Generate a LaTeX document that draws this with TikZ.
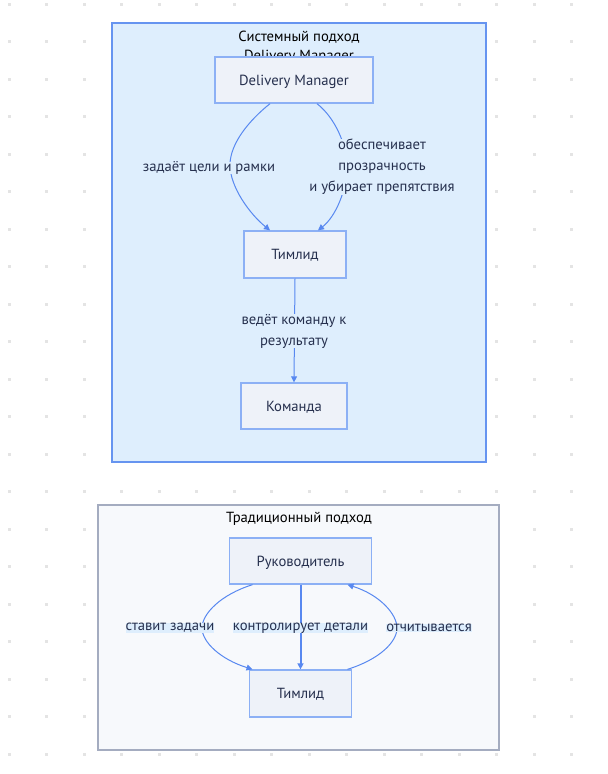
\documentclass[tikz,border=0pt]{standalone}
\usepackage{fontspec}
\setmainfont{PT Sans}
\usetikzlibrary{arrows.meta,calc}
\definecolor{dotc}{RGB}{228,228,228}
\definecolor{c1fill}{RGB}{222,238,253}
\definecolor{c1draw}{RGB}{102,148,240}
\definecolor{c2fill}{RGB}{247,249,252}
\definecolor{c2draw}{RGB}{164,172,192}
\definecolor{nfill}{RGB}{238,242,249}
\definecolor{ndraw}{RGB}{140,176,245}
\definecolor{ecol}{RGB}{88,136,240}
\definecolor{tcol}{RGB}{38,48,78}
\definecolor{lbg}{RGB}{222,238,253}
\begin{document}
\begin{tikzpicture}[x=0.75pt,y=-0.75pt,
  box/.style={draw=ndraw,fill=nfill,line width=1pt,text=tcol,font=\fontsize{11pt}{14pt}\selectfont,inner sep=0pt,text height=7.7pt,text depth=0pt},
  elabel/.style={fill=lbg,text=tcol,inner sep=0pt,align=center,font=\fontsize{11pt}{15.75pt}\selectfont},
  edge/.style={draw=ecol,line width=0.75pt,-{Triangle[length=4.5pt,width=4.5pt]}},
  ctitle/.style={text=black,inner sep=0pt,anchor=base,font=\fontsize{11pt}{14pt}\selectfont}]
\useasboundingbox (0,0) rectangle (607,774);
% dot grid
\foreach \i in {0,...,16}{
  \foreach \j in {0,...,20}{
    \fill[dotc] ({9+37.5*\i-1.5},{4.3+37.5*\j-1.5}) rectangle ++(3,3);
  }
}
% clusters
\path[draw=c1draw,fill=c1fill,line width=1.5pt] (112,23) rectangle (486,462);
\path[draw=c2draw,fill=c2fill,line width=1.5pt] (98,505) rectangle (499,750);
% cluster titles
\node[ctitle] (t1a) at (299,41.5) {Системный подход};
\node[ctitle] (t1b) at (299,60.5) {Delivery Manager};
\node[ctitle] (t2) at (299,522) {Традиционный подход};
% nodes
\node[box,minimum width=118.5pt,minimum height=34.5pt] (dm) at (294,80) {Delivery Manager};
\node[box,minimum width=76.5pt,minimum height=35.25pt] (tl) at (295,254.5) {Тимлид};
\node[box,minimum width=79.5pt,minimum height=34.5pt] (km) at (294,406) {Команда};
\node[box,minimum width=106.5pt,minimum height=34.5pt] (rk) at (300.5,561) {Руководитель};
\node[box,minimum width=76.5pt,minimum height=35.25pt] (tl2) at (300.5,693.5) {Тимлид};
% curve midpoints
\coordinate (m1) at (230,165);
\coordinate (m2) at (347,167);
\coordinate (m3) at (202,628);
\coordinate (m4) at (397,628);
% edges
\draw[edge] ([xshift=-18pt]dm.south) .. controls +(-20,16) and +(0,-22) .. (m1) .. controls +(0,22) and +(-20,-16) .. ([xshift=-18.75pt]tl.north);
\draw[edge] ([xshift=17.25pt]dm.south) .. controls +(18,14) and +(0,-22) .. (m2) .. controls +(0,22) and +(18,-14) .. ([xshift=17.25pt]tl.north);
\draw[edge] (tl.south) -- (km.north);
\draw[edge] ([xshift=-36pt]rk.south) .. controls +(-32,10) and +(0,-14) .. (m3) .. controls +(0,14) and +(-32,-10) .. ([xshift=-36pt]tl2.north);
\draw[edge,line width=1.5pt] (rk.south) -- (tl2.north);
\draw[edge] ([xshift=35.25pt]tl2.north) .. controls +(32,-10) and +(0,14) .. (m4) .. controls +(0,-14) and +(32,10) .. ([xshift=35.25pt]rk.south);
% labels
\node[elabel] (l1) at (209,168) {задаёт цели и рамки};
\node[elabel] (l2) at (382,167) {обеспечивает\\прозрачность\\и убирает препятствия};
\node[elabel] (l3) at (294,331) {ведёт команду к\\результату};
\node[elabel] (l4) at (170,628) {ставит задачи};
\node[elabel] (l5) at (300.5,628) {контролирует детали};
\node[elabel] (l6) at (429,628) {отчитывается};
\end{tikzpicture}
\end{document}
